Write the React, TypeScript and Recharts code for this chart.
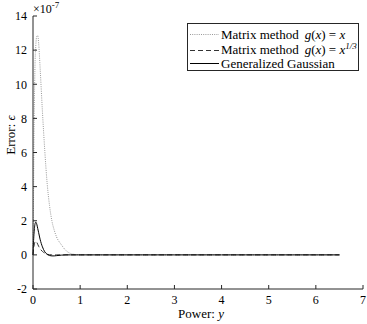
import { LineChart, Line, XAxis, YAxis, Legend } from "recharts";

// sampled power values (x) and errors in units of 1e-7
const powers = [0, 0.01, 0.02, 0.03, 0.04, 0.06, 0.08, 0.1, 0.12, 0.15, 0.2, 0.25, 0.3, 0.35, 0.4, 0.45, 0.5, 0.6, 0.7, 0.8, 0.9, 1, 1.5, 2, 2.5, 3, 3.5, 4, 4.5, 5, 5.5, 6, 6.5];
const matrixLinear = [0, 3, 6.5, 9, 10.8, 12.3, 12.8, 12.85, 12.4, 11.0, 8.4, 6.1, 4.2, 2.9, 2.0, 1.45, 1.05, 0.6, 0.25, 0.08, 0.02, 0, 0, 0, 0, 0, 0, 0, 0, 0, 0, 0, 0];
const matrixCubeRoot = [0, 0.3, 0.5, 0.65, 0.74, 0.8, 0.74, 0.62, 0.5, 0.36, 0.2, 0.1, 0.04, 0.01, 0, 0, 0, 0, 0, 0, 0, 0, 0, 0, 0, 0, 0, 0, 0, 0, 0, 0, 0];
const generalized = [0, 0.7, 1.2, 1.55, 1.78, 1.92, 1.8, 1.55, 1.3, 0.92, 0.47, 0.18, 0.03, -0.04, -0.06, -0.06, -0.045, -0.015, 0, 0, 0, 0, 0, 0, 0, 0, 0, 0, 0, 0, 0, 0, 0];

const xTicks = [0, 1, 2, 3, 4, 5, 6, 7];
const yTicks = [-2, 0, 2, 4, 6, 8, 10, 12, 14];

const data = powers.map((p, i) => ({
  p,
  lin: matrixLinear[i],
  cube: matrixCubeRoot[i],
  gen: generalized[i],
}));

const FONT = "'Liberation Serif', 'Times New Roman', serif";
const AXIS = "#262626";

const LegendBox = () => (
  <svg width={172} height={48} style={{ display: "block", fontFamily: FONT, fontSize: 13 }}>
    <rect x={0.5} y={0.5} width={171} height={47} fill="#fff" stroke={AXIS} />
    <line x1={3} x2={32} y1={11.5} y2={11.5} stroke="#999" strokeDasharray="1 1.2" />
    <text x={34} y={16} fill="#000">
      Matrix method
      <tspan dx={6} fontStyle="italic">g</tspan>(<tspan fontStyle="italic">x</tspan>) = <tspan fontStyle="italic">x</tspan>
    </text>
    <line x1={3} x2={32} y1={27.5} y2={27.5} stroke="#333" strokeDasharray="5 3" />
    <text x={34} y={31} fill="#000">
      Matrix method
      <tspan dx={6} fontStyle="italic">g</tspan>(<tspan fontStyle="italic">x</tspan>) = <tspan fontStyle="italic">x</tspan>
      <tspan fontSize={9} fontStyle="italic" dy={-5}>1/3</tspan>
    </text>
    <line x1={3} x2={32} y1={40.5} y2={40.5} stroke="#000" />
    <text x={34} y={45} fill="#000">Generalized Gaussian</text>
  </svg>
);

const YLabel = () => (
  <text x={10} y={135} transform="rotate(-90, 10, 135)" textAnchor="middle" dominantBaseline="central" fontSize={13} fill="#000" fontFamily={FONT}>
    {"Error: "}<tspan fontStyle="italic">ϵ</tspan>
  </text>
);

const XLabel = () => (
  <text x={201} y={318} textAnchor="middle" fontSize={13} fill="#000" fontFamily={FONT}>
    {"Power: "}<tspan fontStyle="italic">y</tspan>
  </text>
);

export default function App() {
  return (
    <div style={{ position: "absolute", left: 0, top: 0, width: 367, height: 324, background: "#fff" }}>
      <LineChart
        width={367}
        height={324}
        data={data}
        margin={{ top: 16, right: 4, bottom: 0, left: 0 }}
        style={{ fontFamily: FONT }}
      >
        <XAxis
          dataKey="p"
          type="number"
          domain={[0, 7]}
          ticks={xTicks}
          height={35}
          stroke={AXIS}
          tickSize={-4}
          tickMargin={10}
          tick={{ fill: "#000", fontSize: 12, fontFamily: FONT }}
          label={<XLabel />}
        />
        <XAxis
          xAxisId="top"
          orientation="top"
          dataKey="p"
          type="number"
          domain={[0, 7]}
          ticks={xTicks}
          height={0}
          stroke={AXIS}
          tickSize={-4}
          tick={false}
        />
        <YAxis
          type="number"
          domain={[-2, 14]}
          ticks={yTicks}
          width={33}
          stroke={AXIS}
          tickSize={-4}
          tickMargin={10}
          tick={{ fill: "#000", fontSize: 12, fontFamily: FONT }}
          label={<YLabel />}
        />
        <YAxis
          yAxisId="right"
          orientation="right"
          type="number"
          domain={[-2, 14]}
          ticks={yTicks}
          width={0}
          stroke={AXIS}
          tickSize={-4}
          tick={false}
        />
        <Legend
          layout="vertical"
          align="center"
          verticalAlign="middle"
          content={() => <LegendBox />}
          wrapperStyle={{ top: 23, left: 187, width: 172, height: 48 }}
        />
        <Line type="monotone" dataKey="lin" stroke="#999" strokeWidth={1} strokeDasharray="1 1.2" dot={false} isAnimationActive={false} />
        <Line type="monotone" dataKey="cube" stroke="#333" strokeWidth={1} strokeDasharray="5 3" dot={false} isAnimationActive={false} />
        <Line type="monotone" dataKey="gen" stroke="#000" strokeWidth={1} dot={false} isAnimationActive={false} />
      </LineChart>
      <svg width={80} height={16} style={{ position: "absolute", left: 33, top: 0, fontFamily: FONT }}>
        <text x={0} y={13} fontSize={12} fill="#000">
          ×10<tspan fontSize={9} dy={-5}>-7</tspan>
        </text>
      </svg>
    </div>
  );
}
